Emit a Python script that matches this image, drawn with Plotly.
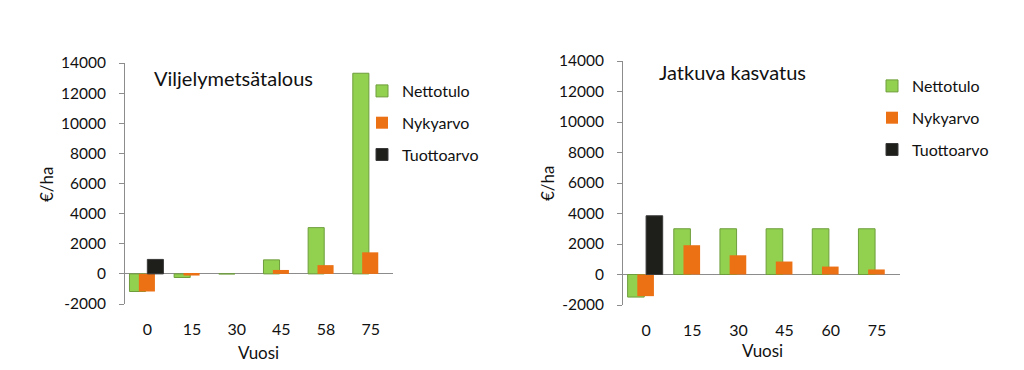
import plotly.graph_objects as go

# ---- data ----
left_title = "Viljelymetsätalous"
right_title = "Jatkuva kasvatus"
left_years = ["0", "15", "30", "45", "58", "75"]
right_years = ["0", "15", "30", "45", "60", "75"]

left_nettotulo = [-1170, -240, 0, 930, 3070, 13320]
left_nykyarvo = [-1170, -110, 0, 260, 580, 1430]
left_tuottoarvo = [960, None, None, None, None, None]

right_nettotulo = [-1480, 3000, 3000, 3000, 3000, 3000]
right_nykyarvo = [-1420, 1920, 1260, 850, 520, 330]
right_tuottoarvo = [3850, None, None, None, None, None]

series_names = ["Nettotulo", "Nykyarvo", "Tuottoarvo"]
y_tick_values = [-2000, 0, 2000, 4000, 6000, 8000, 10000, 12000, 14000]
y_tick_labels = ["-2000", "0", "2000", "4000", "6000", "8000", "10000", "12000", "14000"]

# ---- style ----
PAGE_MARGIN = 8          # default body margin of the html page
W, H = 1024 - PAGE_MARGIN, 370 - PAGE_MARGIN
FONT = "Lato"
TXT = "#111111"
AX = "#8c8c8c"
colors = ["#92D050", "#EC7014", "#1E1E1A"]
lines = ["#6E9E3C", "#EC7014", "#3a3a3a"]
line_widths = [1, 0, 1]
offsets = [-0.40, -0.19, 0.0]
width = 0.36

def px_x(p):  # screen px -> paper fraction
    return (p - PAGE_MARGIN) / W

def px_y(p):
    return 1 - (p - PAGE_MARGIN) / H

fig = go.Figure()

panels = [
    dict(years=left_years, vals=[left_nettotulo, left_nykyarvo, left_tuottoarvo],
         xa="x", ya="y", legend="legend"),
    dict(years=right_years, vals=[right_nettotulo, right_nykyarvo, right_tuottoarvo],
         xa="x2", ya="y2", legend="legend2"),
]

for pi, p in enumerate(panels):
    for si, name in enumerate(series_names):
        fig.add_trace(go.Bar(
            x=p["years"], y=p["vals"][si], name=name,
            xaxis=p["xa"], yaxis=p["ya"],
            offset=offsets[si], width=width,
            marker=dict(color=colors[si], line=dict(color=lines[si], width=line_widths[si])),
            legend=p["legend"], legendgroup=f"{pi}-{si}",
        ))

axis_common_x = dict(type="category", range=[-0.5, 5.5], showline=False, showgrid=False,
                     zeroline=False, ticks="", tickfont=dict(family=FONT, size=16, color=TXT),
                     ticklabelstandoff=14, fixedrange=True, automargin=False)
axis_common_y = dict(range=[-2000, 14000], tickvals=y_tick_values, ticktext=y_tick_labels,
                     showline=True, linecolor=AX,
                     linewidth=1, ticks="outside", ticklen=5, tickcolor=AX, showgrid=False,
                     zeroline=True, zerolinecolor=AX, zerolinewidth=1,
                     tickfont=dict(family=FONT, size=15.5, color=TXT), ticklabelstandoff=10,
                     fixedrange=True, automargin=False)

legend_common = dict(font=dict(family=FONT, size=16, color=TXT), bgcolor="rgba(0,0,0,0)",
                     tracegroupgap=8, traceorder="grouped", xanchor="left", yanchor="top",
                     itemwidth=30)

def ann(text, x, y, size, angle=0):
    return dict(text=text, x=px_x(x), y=px_y(y), xref="paper", yref="paper",
                xanchor="center", yanchor="middle", textangle=angle,
                showarrow=False, font=dict(family=FONT, size=size, color=TXT))

fig.update_layout(
    width=W, height=H,
    margin=dict(l=0, r=0, t=0, b=0, autoexpand=False),
    paper_bgcolor="white", plot_bgcolor="white",
    barmode="overlay",
    font=dict(family=FONT, color=TXT),
    xaxis=dict(domain=[px_x(125), px_x(393)], anchor="y", **axis_common_x),
    yaxis=dict(domain=[px_y(304), px_y(63)], anchor="x", **axis_common_y),
    xaxis2=dict(domain=[px_x(623), px_x(900)], anchor="y2", **axis_common_x),
    yaxis2=dict(domain=[px_y(305), px_y(61)], anchor="x2", **axis_common_y),
    legend=dict(x=px_x(362), y=px_y(74), **legend_common),
    legend2=dict(x=px_x(872), y=px_y(69), **legend_common),
    showlegend=True,
    annotations=[
        ann(left_title, 233, 78, 20),
        ann(right_title, 732, 72, 20),
        ann("€/ha", 46, 185, 17, -90),
        ann("€/ha", 547, 184, 17, -90),
        ann("Vuosi", 258, 352, 17),
        ann("Vuosi", 762, 350, 17),
    ],
)

fig.write_html("out.html")
